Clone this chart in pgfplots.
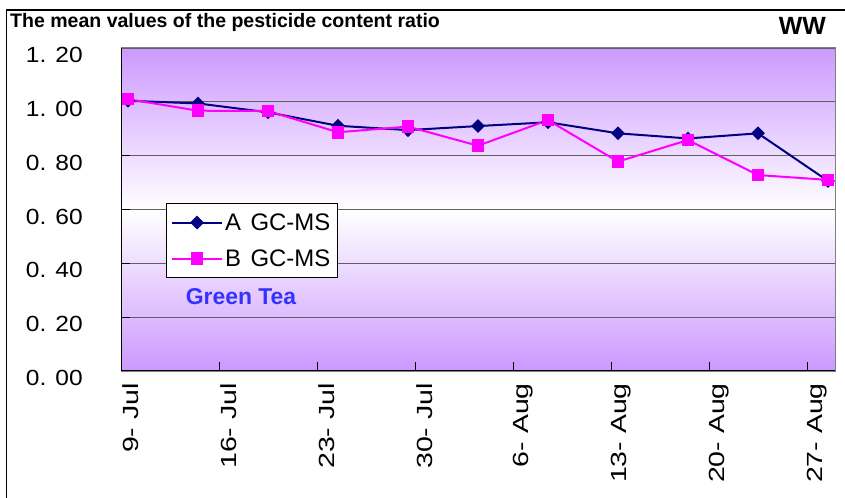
\documentclass[border=0pt]{standalone}
\usepackage{fontspec}
\setmainfont{Liberation Sans}
\newfontfamily\tickfont[FakeStretch=1.12]{Liberation Sans}
\newfontfamily\xtickfont[FakeStretch=1.3]{Liberation Sans}
\usepackage{pgfplots}
\pgfplotsset{compat=1.18}
\definecolor{purp}{RGB}{204,153,255}
\definecolor{navyA}{RGB}{0,0,128}
\definecolor{magB}{RGB}{255,0,255}
\definecolor{gtblue}{RGB}{51,51,255}
\definecolor{gridc}{RGB}{96,96,96}
\begin{document}
\begin{tikzpicture}
\useasboundingbox (0,0) rectangle (845bp,498bp);
\draw[line width=1.4bp] (6.5bp,0) -- (6.5bp,488bp) -- (845bp,488bp);
\node[anchor=base west, inner sep=0, font=\fontsize{19.6}{19.6}\selectfont\bfseries] at (10bp,470bp) {The mean values of the pesticide content ratio};
\node[anchor=base east, inner sep=0, font=\fontsize{25}{25}\selectfont\bfseries] at (826bp,463bp) {WW};
\begin{axis}[
  at={(121bp,127bp)}, anchor=south west,
  scale only axis, width=714bp, height=323bp,
  xmin=0, xmax=51, ymin=0, ymax=1.2,
  axis background/.style={top color=purp, bottom color=purp, middle color=white},
  axis line style={draw=gray, line width=1bp},
  ymajorgrids, grid style={gridc, line width=1.1bp},
  ytick={0,0.2,0.4,0.6,0.8,1.0,1.2},
  yticklabels={0. 00,0. 20,0. 40,0. 60,0. 80,1. 00,1. 20},
  xtick={7,14,21,28,35,42,49},
  xticklabels={,,,,,,},
  extra x ticks={0.5,7.5,14.5,21.5,28.5,35.5,42.5,49.5},
  extra x tick labels={9- Jul,16- Jul,23- Jul,30- Jul,6- Aug,13- Aug,20- Aug,27- Aug},
  extra x tick style={major tick length=0pt},
  tick align=inside, xtick pos=bottom, ytick pos=left,
  major tick length=9bp,
  tick style={black, line width=1bp},
  y tick label style={font=\tickfont\fontsize{22}{22}\selectfont, inner sep=0pt, anchor=east, xshift=-38bp, yshift=-7bp},
  x tick label style={font=\xtickfont\fontsize{22}{22}\selectfont, inner sep=0pt, yshift=-12bp, xshift=3bp, rotate=90, anchor=east},
  legend style={at={(0.0626,0.52)}, anchor=north west, draw=black, line width=0.8bp, fill=white,
    font=\fontsize{24}{24}\selectfont, inner xsep=5bp, inner ysep=8bp, row sep=14bp,
    nodes={inner sep=2bp}, cells={anchor=west}},
  legend image code/.code={\draw[mark repeat=2,mark phase=2,#1] plot coordinates {(0bp,0bp) (25bp,0bp) (50bp,0bp)};},
]
\addplot[navyA, line width=2bp, mark=diamond*, mark size=5.5bp, mark options={xscale=1.33, solid, fill=navyA}]
  coordinates {(0.5,1.004) (5.5,0.994) (10.5,0.961) (15.5,0.911) (20.5,0.895) (25.5,0.910) (30.5,0.924) (35.5,0.883) (40.5,0.864) (45.5,0.883) (50.5,0.706)};
\addlegendentry{A\hspace{0.4em}GC-MS\hspace{14bp}}
\addplot[magB, line width=2bp, mark=square*, mark size=5.3bp, mark options={solid, fill=magB}]
  coordinates {(0.5,1.010) (5.5,0.967) (10.5,0.966) (15.5,0.887) (20.5,0.908) (25.5,0.837) (30.5,0.932) (35.5,0.778) (40.5,0.858) (45.5,0.728) (50.5,0.710)};
\addlegendentry{B\hspace{0.4em}GC-MS\hspace{14bp}}
\draw[black, line width=1.2bp] (rel axis cs:0,1) -- (rel axis cs:0,0) -- (rel axis cs:1,0);
\end{axis}
\node[font=\fontsize{23}{23}\selectfont\bfseries, text=gtblue] at (241bp,201bp) {Green Tea};
\end{tikzpicture}
\end{document}
